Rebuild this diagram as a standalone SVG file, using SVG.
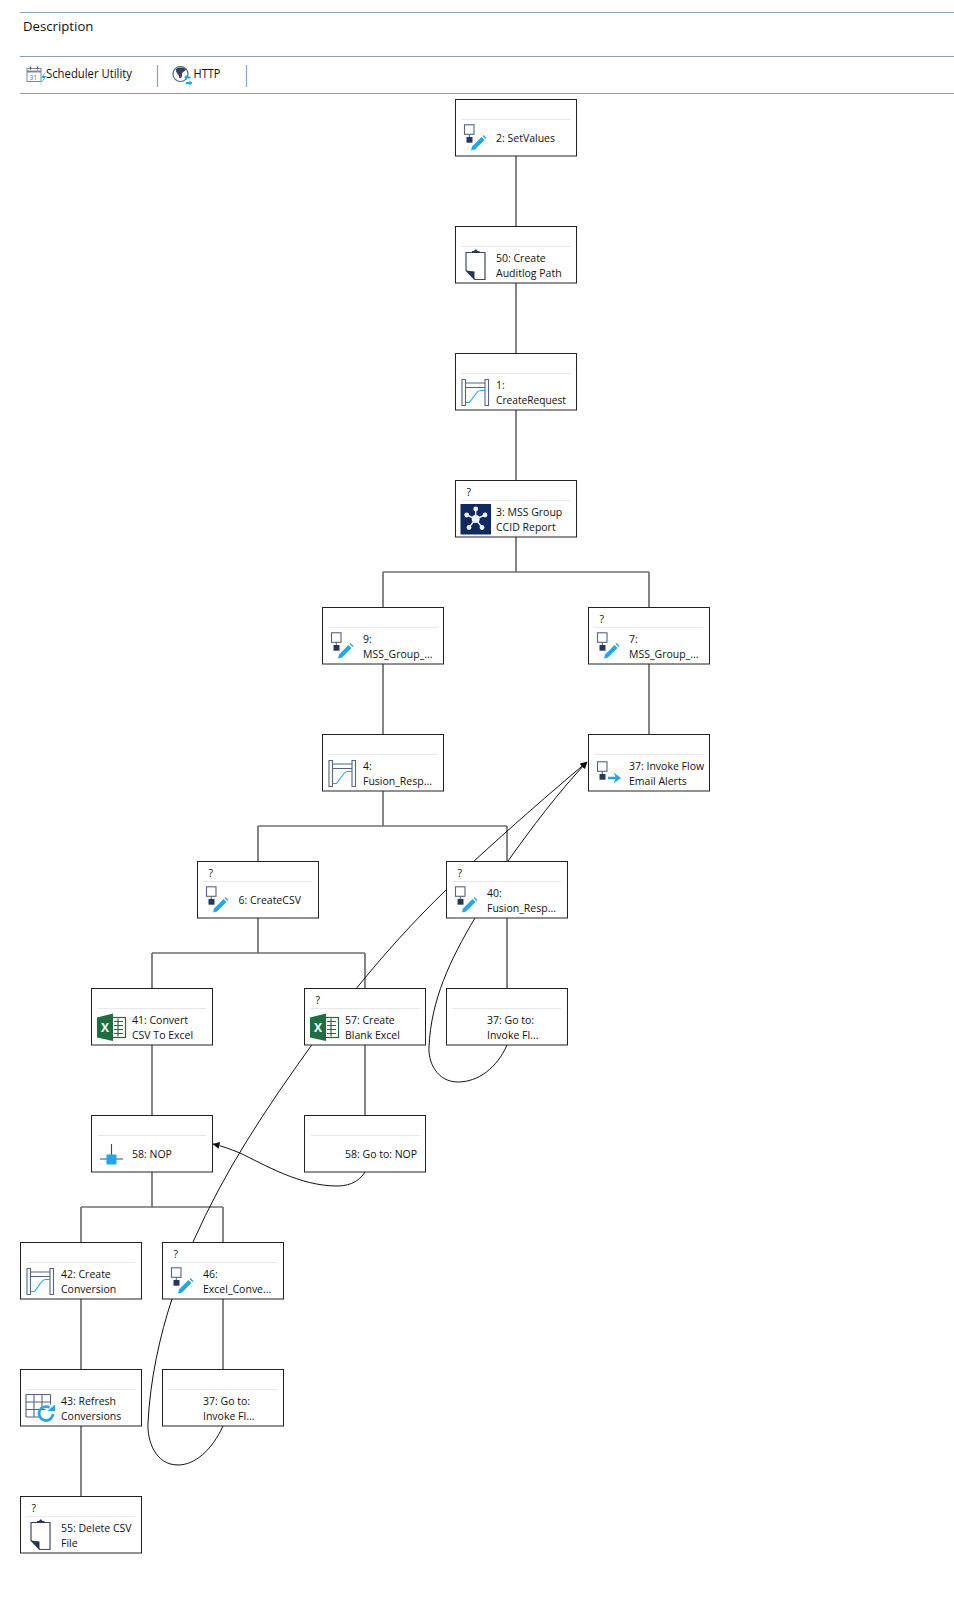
<svg xmlns="http://www.w3.org/2000/svg" width="954" height="1613" viewBox="0 0 954 1613">
<style>
text{font-family:"Open Sans","Noto Sans","Liberation Sans",sans-serif;font-size:10.5px;fill:#111}
.h{font-size:13.2px}
.t{font-size:12.5px}
.box{fill:#fff;stroke:#222;stroke-width:1}
.sep{stroke:#e8e8e8;stroke-width:1.200}
.hl{stroke:#86a2c2;stroke-width:1.200;fill:none}
.c{stroke:#707070;stroke-width:1.700;fill:none}
.f{stroke:#111;stroke-width:1;fill:none}
.ol{fill:none;stroke:#56647f;stroke-width:1.100}
.bl{fill:#1ea7ee}
.dk{fill:#26375a}
</style>
<defs>
<marker id="ah" markerWidth="8" markerHeight="8" refX="6.500" refY="3.500" orient="auto" markerUnits="userSpaceOnUse"><path d="M0 0L7 3.500L0 7Z" fill="#111"/></marker>
<g id="box"><rect class="box" width="121" height="56.500"/><path class="sep" d="M6 20H115"/></g>
<g id="flow"><rect class="ol" x="1" y="1.300" width="9.500" height="9.500"/><path class="ol" d="M5.800 10.800V13.500"/><rect class="dk" x="3" y="13.500" width="6" height="5.700"/></g>
<g id="pen"><path class="bl" d="M0 15.500L1 11.500L10.500 2L13.500 5L4 14.500Z"/><path class="bl" d="M11.500 1L12.500 0L15.500 3L14.500 4Z"/></g>
<g id="map"><path class="ol" d="M1.500 1V27H5V1ZM24.500 1V27H28V1ZM5 4.500H24.500M5 9H24.500"/><path d="M5.500 24H9L16 14.500C17 13 18.500 12 20 12H24.500" fill="none" stroke="#1ea7ee" stroke-width="1.200"/></g>
<g id="clip"><path d="M0 3H19V30H8.500L0 21Z" fill="none" stroke="#3d4a66" stroke-width="1.200"/><path class="dk" d="M6 3.500V1.500H8L9 0H10.500L11.500 1.500H13.500V3.500Z"/><path class="dk" d="M0 21L8.500 22V30Z"/></g>
<g id="xl"><rect x="14" y="4" width="14.500" height="20" fill="#fff" stroke="#1d6f42" stroke-width="1.200"/><path stroke="#1d6f42" stroke-width="1.200" d="M17 8H26M17 12H26M17 16H26M17 20H26M21 5V23" fill="none"/><path fill="#1d6f42" d="M0 4L16 0V27.500L0 24Z"/><text x="4" y="18.500" style="font-size:12px;font-weight:700;fill:#fff">X</text></g>
</defs>
<rect width="954" height="1613" fill="#fff"/>
<g id="header">
<path class="hl" d="M20 12.500H954M20 56.500H954M20 93.500H954M157.500 65V87M246.500 65V87"/>
<text class="h" x="23" y="31">Description</text>
<g id="calendar"><rect x="27" y="68.500" width="14" height="13" fill="none" stroke="#7d8798"/><path d="M27 71.500H41" stroke="#7d8798" stroke-width="2"/><path d="M30.500 66.500V69.500M37.500 66.500V69.500" stroke="#4d5b7c" stroke-width="1.300"/><text x="29.500" y="79.500" style="font-size:6.500px;fill:#56647f">31</text><path class="bl" d="M46 71L41 78H44L39 86L46.500 76H43.500Z"/></g>
<text class="t" x="46" y="78" textLength="86" lengthAdjust="spacingAndGlyphs">Scheduler Utility</text>
<g id="globe"><circle cx="180.500" cy="74" r="7.500" fill="#fff" stroke="#56647f" stroke-width="1.200"/><path d="M176 69C179 67 184 67 186 69.500C184.500 72 183 71 182 74C182.500 77 180.500 79 179 77.500C179.500 74 175 73 176 69Z" fill="#33415f"/><path class="bl" d="M184 77.500L187 75V76.500H190.500V78.500H187V80ZM192.500 83L189.500 80.500V82H186V84H189.500V85.500Z"/></g>
<text class="t" x="193.500" y="78" textLength="27" lengthAdjust="spacingAndGlyphs">HTTP</text>
</g>
<g id="connectors">
<path class="c" d="M516 155V226M516 282V353M516 409V480M516 536V572M383 572H649M383 572V607M649 572V607M383 663V734M649 663V734M383 790V826M258 826H507M258 826V861M507 826V861M258 917V953M152 953H365M152 953V988M365 953V988M507 917V988M152 1044V1115M365 1044V1115M152 1171V1207M81 1207H223M81 1207V1242M223 1207V1242M81 1298V1369M223 1298V1369M81 1425V1496"/>
<path class="f" marker-end="url(#ah)" d="M507 1045C497 1068 478 1082 458 1082C437 1082 428 1062 429 1047C431 1000 450 960 475 918C488 895 495 878 508 861C530 830 560 790 587 762"/>
<path class="f" marker-end="url(#ah)" d="M223 1426C212 1450 195 1465 178 1465C155 1465 147 1440 148 1423C150 1380 160 1335 172 1299C178 1280 185 1260 193 1242C225 1170 265 1110 311.700 1045C325 1025 340 1008 356.700 988C385 953 415 920 446 890C455 880 465 870 473 862C510 828 550 793 587 762"/>
<path class="f" marker-end="url(#ah)" d="M365 1172C358 1184 345 1186 337 1186C300 1186 265 1165 240 1153C230 1149 222 1146 213 1144"/>
</g>
<g id="n2" transform="translate(455.500 99.500)"><use href="#box"/><use href="#flow" x="8" y="24"/><use href="#pen" x="15.500" y="35.500"/><text x="40.500" y="42">2: SetValues</text></g>
<g id="n50" transform="translate(455.500 226.500)"><use href="#box"/><use href="#clip" x="10.500" y="23"/><text x="40.500" y="35.500">50: Create</text><text x="40.500" y="50.500">Auditlog Path</text></g>
<g id="n1" transform="translate(455.500 353.500)"><use href="#box"/><use href="#map" x="5" y="25"/><text x="40.500" y="35.500">1:</text><text x="40.500" y="50.500" textLength="70" lengthAdjust="spacingAndGlyphs">CreateRequest</text></g>
<g id="n3" transform="translate(455.500 480.500)"><use href="#box"/><text x="11" y="15.500">?</text><rect x="5" y="23.500" width="30.500" height="30.500" fill="#0f2a5f"/><path stroke="#dfe6f2" stroke-width="1.500" d="M20.200 38.500V28.500M20.200 38.500L11.200 34.500M20.200 38.500L29.500 34.500M20.200 38.500L13.500 47M20.200 38.500L26.500 47"/><g fill="#eef2f8"><circle cx="20.200" cy="38.500" r="4"/><circle cx="20.200" cy="28.500" r="2.400"/><circle cx="11.200" cy="34.500" r="2.400"/><circle cx="29.500" cy="34.500" r="2.400"/><circle cx="13.500" cy="47" r="2.400"/><circle cx="26.500" cy="47" r="2.400"/></g><text x="40.500" y="35.500">3: MSS Group</text><text x="40.500" y="50.500">CCID Report</text></g>
<g id="n9" transform="translate(322.500 607.500)"><use href="#box"/><use href="#flow" x="8" y="24"/><use href="#pen" x="15.500" y="35.500"/><text x="40.500" y="35.500">9:</text><text x="40.500" y="50.500">MSS_Group_...</text></g>
<g id="n7" transform="translate(588.500 607.500)"><use href="#box"/><text x="11" y="15.500">?</text><use href="#flow" x="8" y="24"/><use href="#pen" x="15.500" y="35.500"/><text x="40.500" y="35.500">7:</text><text x="40.500" y="50.500">MSS_Group_...</text></g>
<g id="n4" transform="translate(322.500 734.500)"><use href="#box"/><use href="#map" x="5" y="25"/><text x="40.500" y="35.500">4:</text><text x="40.500" y="50.500">Fusion_Resp...</text></g>
<g id="n37" transform="translate(588.500 734.500)"><use href="#box"/><use href="#flow" x="8" y="26"/><path class="bl" d="M19.500 42.300H27L25 38L32.500 43.500L25 49L27 44.700H19.500Z"/><text x="40.500" y="35.500">37: Invoke Flow</text><text x="40.500" y="50.500">Email Alerts</text></g>
<g id="n6" transform="translate(197.500 861.500)"><use href="#box"/><text x="11" y="15.500">?</text><use href="#flow" x="8" y="24"/><use href="#pen" x="15.500" y="35.500"/><text x="41" y="42">6: CreateCSV</text></g>
<g id="n40" transform="translate(446.500 861.500)"><use href="#box"/><text x="11" y="15.500">?</text><use href="#flow" x="8" y="24"/><use href="#pen" x="15.500" y="35.500"/><text x="40.500" y="35.500">40:</text><text x="40.500" y="50.500">Fusion_Resp...</text></g>
<g id="n41" transform="translate(91.500 988.500)"><use href="#box"/><use href="#xl" x="5.500" y="25"/><text x="40.500" y="35.500">41: Convert</text><text x="40.500" y="50.500">CSV To Excel</text></g>
<g id="n57" transform="translate(304.500 988.500)"><use href="#box"/><text x="11" y="15.500">?</text><use href="#xl" x="5.500" y="25"/><text x="40.500" y="35.500">57: Create</text><text x="40.500" y="50.500">Blank Excel</text></g>
<g id="n37a" transform="translate(446.500 988.500)"><use href="#box"/><text x="40.500" y="35.500">37: Go to:</text><text x="40.500" y="50.500">Invoke Fl...</text></g>
<g id="n58" transform="translate(91.500 1115.500)"><use href="#box"/><path d="M20 28.500V48M8.500 43.500H31.500" stroke="#2a4a8a" stroke-width="1.100" fill="none"/><rect x="15" y="39" width="10" height="10" fill="#1ea7ee"/><text x="40.500" y="42">58: NOP</text></g>
<g id="n58a" transform="translate(304.500 1115.500)"><use href="#box"/><text x="40.500" y="42">58: Go to: NOP</text></g>
<g id="n42" transform="translate(20.500 1242.500)"><use href="#box"/><use href="#map" x="5" y="25"/><text x="40.500" y="35.500">42: Create</text><text x="40.500" y="50.500">Conversion</text></g>
<g id="n46" transform="translate(162.500 1242.500)"><use href="#box"/><text x="11" y="15.500">?</text><use href="#flow" x="8" y="24"/><use href="#pen" x="15.500" y="35.500"/><text x="40.500" y="35.500">46:</text><text x="40.500" y="50.500">Excel_Conve...</text></g>
<g id="n43" transform="translate(20.500 1369.500)"><use href="#box"/><path class="ol" d="M5.500 25H30M5.500 32.500H30M5.500 40H25M5.500 47.500H19M5.500 25V47.500M13.500 25V47.500M21.500 25V40M30 25V35"/><path d="M32.500 44.500A7 7 0 1 1 29 38" fill="none" stroke="#1ea7ee" stroke-width="2.800"/><path class="bl" d="M27 41.500H34.500V35Z"/><text x="40.500" y="35.500">43: Refresh</text><text x="40.500" y="50.500">Conversions</text></g>
<g id="n37b" transform="translate(162.500 1369.500)"><use href="#box"/><text x="40.500" y="35.500">37: Go to:</text><text x="40.500" y="50.500">Invoke Fl...</text></g>
<g id="n55" transform="translate(20.500 1496.500)"><use href="#box"/><text x="11" y="15.500">?</text><use href="#clip" x="10.500" y="23"/><text x="40.500" y="35.500">55: Delete CSV</text><text x="40.500" y="50.500">File</text></g>
</svg>
